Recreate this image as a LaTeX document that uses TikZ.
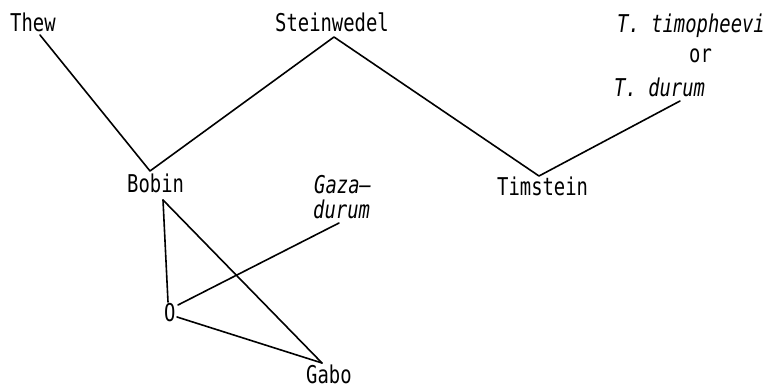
\documentclass[tikz,border=0pt]{standalone}
\usepackage{fontspec}
\newfontfamily\twfont[FakeStretch=0.77]{DejaVu Sans Mono}
\begin{document}
\begin{tikzpicture}[x=1pt,y=-1pt,
  lbl/.style={anchor=base west,inner sep=0pt,font=\twfont\fontsize{24.5}{26}\selectfont},
  ilbl/.style={lbl,font=\twfont\itshape\fontsize{24.5}{26}\selectfont},
  link/.style={line width=1.6pt,line cap=round,line join=round}]
\useasboundingbox (0,0) rectangle (769,388);
% labels
\node[lbl] (thew) at (10,31) {Thew};
\node[lbl] (stein) at (275,31) {Steinwedel};
\node[ilbl] (timo) at (617,32) {T. timopheevi};
\node[lbl] (or) at (689,62) {or};
\node[ilbl] (durumT) at (614,96) {T. durum};
\node[lbl] (bobin) at (127,192) {Bobin};
\node[lbl] (timstein) at (497,195) {Timstein};
\node[ilbl] (gaza) at (314,193) {Gaza–};
\node[ilbl] (gdurum) at (313,218) {durum};
\node[lbl] (O) at (164,321) {O};
\node[lbl] (gabo) at (306,383) {Gabo};
% connector ends
\coordinate (thewP) at (40,35);
\coordinate (bobinTop) at (150,171);
\coordinate (steinP) at (334,37);
\coordinate (timsteinTop) at (539,176);
\coordinate (durumP) at (680,101);
\coordinate (bobinBot) at (163,200);
\coordinate (Otop) at (168,302);
\coordinate (Oright) at (178,305);
\coordinate (Oright2) at (177,317);
\coordinate (gazaP) at (339,223);
\coordinate (gaboTop) at (322,363);
% connectors
\draw[link] (thewP) -- (bobinTop) -- (steinP) -- (timsteinTop) -- (durumP);
\draw[link] (bobinBot) -- (Otop);
\draw[link] (bobinBot) -- (gaboTop);
\draw[link] (Oright) -- (gazaP);
\draw[link] (Oright2) -- (gaboTop);
\end{tikzpicture}
\end{document}
